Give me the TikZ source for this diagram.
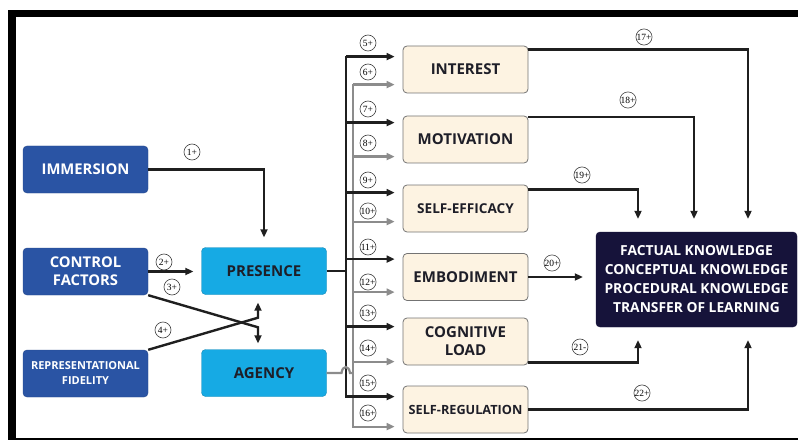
\documentclass[tikz,border=0pt]{standalone}
\usepackage{fontspec}
\setmainfont{Liberation Serif}
\newfontfamily\boxfont{Open Sans}
\usetikzlibrary{arrows.meta,calc}

\definecolor{darkblue}{RGB}{42,84,164}
\definecolor{lightblue}{RGB}{22,170,228}
\definecolor{cream}{RGB}{253,243,226}
\definecolor{navy}{RGB}{22,19,58}
\definecolor{linegray}{RGB}{140,140,140}
\definecolor{boxtext}{RGB}{30,30,40}

\begin{document}
\begin{tikzpicture}[x=1pt,y=-1pt,>={Triangle[length=8pt,width=7pt]},
  box/.style={rounded corners=4pt,minimum width=125pt,minimum height=47pt,
    align=center,inner sep=2pt},
  dbox/.style={box,fill=darkblue,draw=darkblue!85!black,text=white,
    font=\boxfont\bfseries\fontsize{14.8}{18}\selectfont},
  lbox/.style={box,fill=lightblue,draw=lightblue!80!black,text=boxtext,
    font=\boxfont\bfseries\fontsize{15}{18}\selectfont},
  cbox/.style={box,fill=cream,draw=black!55,line width=0.8pt,text=boxtext,
    font=\boxfont\bfseries\fontsize{15}{18}\selectfont},
  small/.style={font=\boxfont\bfseries\fontsize{12.7}{16}\selectfont},
  kbox/.style={box,fill=navy,draw=navy,text=white,minimum width=201pt,
    minimum height=95pt,font=\boxfont\bfseries\fontsize{13.8}{19}\selectfont},
  num/.style={circle,draw=black!75,line width=0.6pt,minimum size=16pt,
    inner sep=0pt,font=\fontsize{9.5}{9.5}\selectfont},
  link/.style={line width=2.4pt,black!88},
  glink/.style={line width=2.2pt,linegray},
]
  \useasboundingbox (0,0) rectangle (798,441);

  % frame
  \fill (8,10) rectangle (798,17);
  \fill (8,10) rectangle (16,440);
  \draw[line width=1.4pt] (8,439) -- (798,439);

  % sources
  \node[dbox] (imm) at (85.5,169.5) {IMMERSION};
  \node[dbox] (ctrl) at (85.5,271.5) {CONTROL\\FACTORS};
  \node[dbox,font=\boxfont\bfseries\fontsize{11}{15}\selectfont] (repr) at (85.5,373.5)
    {REPRESENTATIONAL\\FIDELITY};
  \node[lbox] (pres) at (264,271) {PRESENCE};
  \node[lbox] (agen) at (264,373) {AGENCY};

  % mediators
  \node[cbox] (inter) at (465.5,69.5) {INTEREST};
  \node[cbox] (motiv) at (465.5,139.5) {MOTIVATION};
  \node[cbox,small,font=\boxfont\bfseries\fontsize{13.6}{16}\selectfont] (selfe) at (465.5,208.5) {SELF-EFFICACY};
  \node[cbox] (embod) at (465.5,277) {EMBODIMENT};
  \node[cbox] (cogn) at (465.5,341.5) {COGNITIVE\\LOAD};
  \node[cbox,small] (selfr) at (465.5,409.5) {SELF-REGULATION};

  \node[kbox] (know) at (696.5,279.5)
    {FACTUAL KNOWLEDGE\\CONCEPTUAL KNOWLEDGE\\PROCEDURAL KNOWLEDGE\\TRANSFER OF LEARNING};

  % left links
  \draw[link,->,shorten >=10pt] (imm.east) -| (pres.north);
  \draw[link,->,shorten >=8pt] (ctrl.east) -- (ctrl.east -| pres.west);
  \draw[link,->,shorten >=6pt] (ctrl.south east) -- ($(agen.north)+(-6,-22)$)
    -- ($(agen.north)+(-6,0)$);
  \draw[link,->,shorten >=8pt] (repr.north east) -- ($(pres.south)+(-6,23)$)
    -- ($(pres.south)+(-6,0)$);

  % buses
  \coordinate (bus) at (346,57);
  \coordinate (busend) at (346,397);
  \coordinate (gbus) at (353,85);
  \coordinate (gbusend) at (353,427);
  \draw[link,line cap=rect] (bus) -- (busend);
  \draw[glink,line cap=rect] (gbus) -- (gbusend);
  \draw[link] (pres.east) -- (pres.east -| bus);

  \coordinate (hopa) at ($(agen.east -| bus)+(-4.5,0)$);
  \coordinate (hopb) at ($(agen.east -| bus)+(4,0)$);
  \draw[glink] (agen.east) -- (hopa) .. controls +(1,-8) and +(-1,-8) .. (hopb)
    -- (agen.east -| gbus);

  \foreach \b/\db/\dg in {inter/11/39, motiv/7/41, selfe/8/37, embod/6/39,
      cogn/9/44, selfr/11/41} {
    \coordinate (tb) at ($(\b.north west)+(0,\db)$);
    \coordinate (tg) at ($(\b.north west)+(0,\dg)$);
    \draw[link,->,shorten >=8pt] (bus |- tb) -- (tb);
    \draw[glink,->,shorten >=8pt] (gbus |- tg) -- (tg);
  }

  % right links
  \draw[link,->,shorten >=13pt] ($(inter.north east)+(0,4)$) -| ($(know.north)+(51.5,0)$);
  \draw[link,->,shorten >=13pt] ($(motiv.north east)+(0,1.5)$) -| ($(know.north)+(-2.5,0)$);
  \draw[link,->,shorten >=13pt] ($(selfe.north east)+(0,5)$) -| ($(know.north)+(-58.5,0)$);
  \draw[link,->,shorten >=13pt] (embod.east) -- (embod.east -| know.west);
  \draw[link,->,shorten >=13pt] ($(cogn.south east)+(0,-3)$) -| ($(know.south)+(-58.5,0)$);
  \draw[link,->,shorten >=13pt] (selfr.east) -| ($(know.south)+(51.5,0)$);

  % path labels
  \node[num] (l1) at (192,152) {1+};
  \node[num] (l2) at (164,262) {2+};
  \node[num] (l3) at (172,287) {3+};
  \node[num] (l4) at (163,330) {4+};
  \node[num] (l5) at (368,43) {5+};
  \node[num] (l6) at (368,72) {6+};
  \node[num] (l7) at (368,109) {7+};
  \node[num] (l8) at (368,143) {8+};
  \node[num] (l9) at (368,180) {9+};
  \node[num] (l10) at (368,211) {10+};
  \node[num] (l11) at (368,247) {11+};
  \node[num] (l12) at (368,282) {12+};
  \node[num] (l13) at (368,313) {13+};
  \node[num] (l14) at (368,348) {14+};
  \node[num] (l15) at (368,383) {15+};
  \node[num] (l16) at (368,413) {16+};
  \node[num] (l17) at (644,37) {17+};
  \node[num] (l18) at (628,100) {18+};
  \node[num] (l19) at (582,175) {19+};
  \node[num] (l20) at (552,263) {20+};
  \node[num] (l21) at (580,347) {21-};
  \node[num] (l22) at (642,393) {22+};
\end{tikzpicture}
\end{document}
